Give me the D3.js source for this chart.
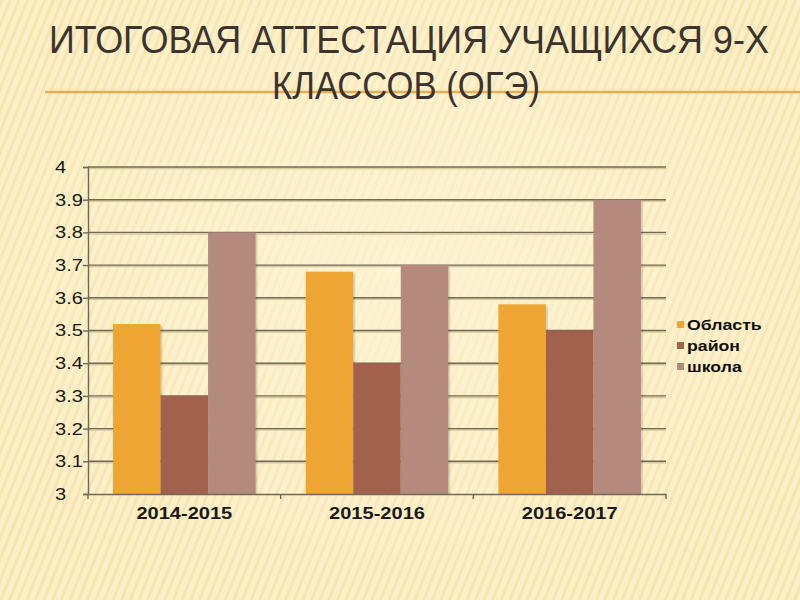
<!DOCTYPE html>
<html>
<head>
<meta charset="utf-8">
<script src="https://cdn.jsdelivr.net/npm/d3@7"></script>
<style>
  body { margin: 0; }
  svg { display: block; }
</style>
</head>
<body>
<svg id="chart"></svg>
<script>
// data
var years = ['2014-2015', '2015-2016', '2016-2017'];
var seriesNames = ['Область', 'район', 'школа'];
var oblast = [3.52, 3.68, 3.58];
var raion = [3.3, 3.4, 3.5];
var shkola = [3.8, 3.7, 3.9];
var yTicks = [3, 3.1, 3.2, 3.3, 3.4, 3.5, 3.6, 3.7, 3.8, 3.9, 4];
var colors = ['#efa533', '#a2614d', '#b4897e'];

var W = 800, H = 600;
var plot = { left: 88, right: 666, top: 167, bottom: 494 };
var stretch = 1.18; // chart text in the picture is a bit wide

var svg = d3.select('#chart').attr('width', W).attr('height', H);

/* background with faint diagonal stripes */
var defs = svg.append('defs');
var pat = defs.append('pattern')
	.attr('id', 'stripes')
	.attr('patternUnits', 'userSpaceOnUse')
	.attr('width', 8).attr('height', 8)
	.attr('patternTransform', 'rotate(22)');
pat.append('rect').attr('width', 8).attr('height', 8).attr('fill', '#fcefc6');
pat.append('rect').attr('width', 3).attr('height', 8).attr('fill', '#f2dea8').attr('opacity', 0.75);

var glow = defs.append('radialGradient').attr('id', 'glow')
	.attr('cx', '0.5').attr('cy', '0.45').attr('r', '0.6');
glow.append('stop').attr('offset', '0').attr('stop-color', '#fff6da').attr('stop-opacity', 0.7);
glow.append('stop').attr('offset', '1').attr('stop-color', '#fff6da').attr('stop-opacity', 0);

svg.append('rect').attr('width', W).attr('height', H).attr('fill', 'url(#stripes)');
svg.append('rect').attr('width', W).attr('height', H).attr('fill', 'url(#glow)');

/* title line */
svg.append('line')
	.attr('x1', 45).attr('x2', 800)
	.attr('y1', 92).attr('y2', 92)
	.attr('stroke', '#e6ad52')
	.attr('stroke-width', 2.5);

/* title - a little taller than wide, like a narrow face */
var tallY = 1.1;
var title = svg.append('g')
	.attr('transform', 'scale(1,' + tallY + ')')
	.attr('font-family', '"Liberation Sans Narrow", "Arial Narrow", "Liberation Sans", sans-serif')
	.attr('font-size', 36)
	.attr('fill', '#3b342e')
	.attr('text-anchor', 'middle');
title.append('text').attr('x', 409).attr('y', 53 / tallY)
	.attr('textLength', 720).attr('lengthAdjust', 'spacingAndGlyphs')
	.text('ИТОГОВАЯ АТТЕСТАЦИЯ УЧАЩИХСЯ 9-Х');
title.append('text').attr('x', 406).attr('y', 99 / tallY)
	.attr('textLength', 268).attr('lengthAdjust', 'spacingAndGlyphs')
	.text('КЛАССОВ (ОГЭ)');

/* scales */
var x0 = d3.scaleBand().domain(years).range([plot.left, plot.right])
	.paddingInner(0.26).paddingOuter(0.13);
var x1 = d3.scaleBand().domain(seriesNames).range([0, x0.bandwidth()]);
var y = d3.scaleLinear().domain([3, 4]).range([plot.bottom, plot.top]);

var table = years.map(function (yr, i) {
	return { year: yr, values: [oblast[i], raion[i], shkola[i]] };
});

/* gridlines */
var grid = svg.append('g');
grid.selectAll('line.shadow')
	.data(yTicks.slice(1))
	.enter().append('line')
	.attr('x1', plot.left).attr('x2', plot.right)
	.attr('y1', function (d) { return y(d) + 1.5; })
	.attr('y2', function (d) { return y(d) + 1.5; })
	.attr('stroke', '#d8c89a').attr('stroke-width', 1.5);
grid.selectAll('line.main')
	.data(yTicks.slice(1))
	.enter().append('line')
	.attr('x1', plot.left).attr('x2', plot.right)
	.attr('y1', function (d) { return y(d); })
	.attr('y2', function (d) { return y(d); })
	.attr('stroke', '#6f6a58').attr('stroke-width', 1.4);

/* bars */
var groups = svg.append('g').selectAll('g')
	.data(table)
	.enter().append('g')
	.attr('transform', function (d) { return 'translate(' + x0(d.year) + ',0)'; });

groups.selectAll('rect.sh')
	.data(function (d) { return d.values; })
	.enter().append('rect')
	.attr('x', function (d, i) { return x1(seriesNames[i]) + 2; })
	.attr('y', function (d) { return y(d) + 2; })
	.attr('width', x1.bandwidth())
	.attr('height', function (d) { return y(3) - y(d) - 2; })
	.attr('fill', '#000').attr('opacity', 0.12);

groups.selectAll('rect.bar')
	.data(function (d) { return d.values; })
	.enter().append('rect')
	.attr('x', function (d, i) { return x1(seriesNames[i]); })
	.attr('y', function (d) { return y(d); })
	.attr('width', x1.bandwidth())
	.attr('height', function (d) { return y(3) - y(d); })
	.attr('fill', function (d, i) { return colors[i]; });

/* axes */
var yAxis = svg.append('g')
	.attr('transform', 'translate(' + plot.left + ',0)')
	.call(d3.axisLeft(y).tickValues(yTicks).tickSize(5)
		.tickFormat(function (d) { return d3.format('')(+d.toFixed(1)); }));
yAxis.select('.domain').attr('stroke', '#6f6a58').attr('stroke-width', 1.4);
yAxis.selectAll('.tick line').attr('stroke', '#6f6a58').attr('stroke-width', 1.4);
yAxis.selectAll('.tick text')
	.attr('font-family', '"Liberation Sans", Arial, sans-serif')
	.attr('font-size', 17)
	.attr('fill', '#1a1a1a')
	.attr('text-anchor', 'start')
	.attr('x', -33 / stretch)
	.attr('transform', 'scale(' + stretch + ',1)');

var xAxis = svg.append('g')
	.attr('transform', 'translate(0,' + plot.bottom + ')')
	.call(d3.axisBottom(x0).tickSize(0).tickPadding(13));
xAxis.select('.domain').attr('stroke', '#6f6a58').attr('stroke-width', 1.4);
xAxis.selectAll('.tick text')
	.attr('font-family', '"Liberation Sans", Arial, sans-serif')
	.attr('font-size', 17)
	.attr('font-weight', 'bold')
	.attr('fill', '#1a1a1a')
	.attr('transform', 'scale(' + stretch + ',1)');

// category separators on the x axis
var seps = [plot.left].concat(years.map(function (yr) { return x0(yr) + x0.bandwidth() + x0.step() * x0.paddingInner() / 2; }));
seps[seps.length - 1] = plot.right;
svg.append('g').selectAll('line')
	.data(seps)
	.enter().append('line')
	.attr('x1', function (d) { return d; }).attr('x2', function (d) { return d; })
	.attr('y1', plot.bottom).attr('y2', plot.bottom + 5)
	.attr('stroke', '#6f6a58').attr('stroke-width', 1.4);

/* legend */
var legend = svg.append('g').attr('transform', 'translate(677,325)');
var item = legend.selectAll('g')
	.data(seriesNames)
	.enter().append('g')
	.attr('transform', function (d, i) { return 'translate(0,' + (i * 21) + ')'; });
item.append('rect')
	.attr('x', 0).attr('y', -4)
	.attr('width', 7).attr('height', 7)
	.attr('fill', function (d, i) { return colors[i]; });
item.append('text')
	.attr('x', 10 / stretch).attr('y', 0).attr('dy', '0.35em')
	.attr('transform', 'scale(' + stretch + ',1)')
	.attr('font-family', '"Liberation Sans", Arial, sans-serif')
	.attr('font-size', 15)
	.attr('font-weight', 'bold')
	.attr('fill', '#111')
	.text(function (d) { return d; });
</script>
</body>
</html>
